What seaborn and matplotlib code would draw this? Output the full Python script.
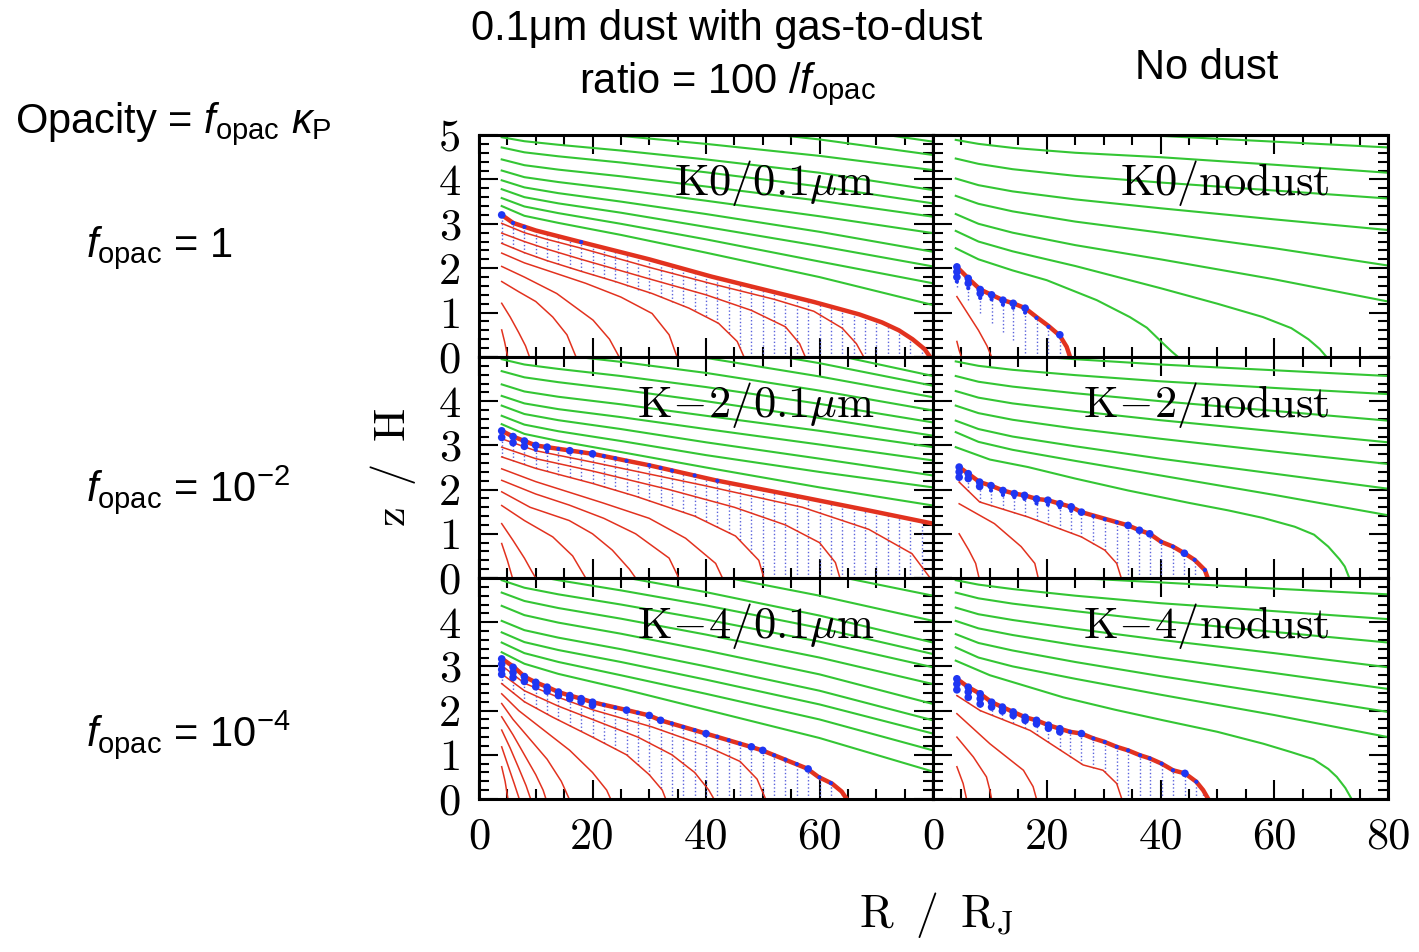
import matplotlib
matplotlib.use("Agg")
import matplotlib.pyplot as plt
from matplotlib.ticker import MultipleLocator
import pandas as pd
import seaborn as sns

plt.rcParams.update({
    "font.family": ["Liberation Sans", "DejaVu Sans"],
    "mathtext.fontset": "custom",
    "mathtext.rm": "Liberation Sans",
    "mathtext.it": "Liberation Sans:italic",
    "mathtext.bf": "Liberation Sans:bold",
    "axes.linewidth": 2.0,
    "axes.edgecolor": "black",
})

GREEN = "#34c634"
RED = "#e2321f"
BLUE = "#1f36f2"
DOTC = "#5a62dc"

X_TICKS = [0, 20, 40, 60, 80]
Y_TICKS = [0, 1, 2, 3, 4, 5]

# radii (R / R_J) at which the outer field lines are sampled
GRID_R = [4, 8, 14, 25, 40, 60, 80]

# ---------------- K0 / 0.1 um ----------------
A_GREEN = [
    [3.40, 3.18, 3.02, 2.75, 2.35, 1.80, 1.17],
    [3.58, 3.39, 3.24, 3.00, 2.65, 2.15, 1.66],
    [3.78, 3.60, 3.46, 3.25, 2.93, 2.50, 2.04],
    [3.98, 3.82, 3.69, 3.50, 3.22, 2.82, 2.37],
    [4.20, 4.05, 3.94, 3.77, 3.52, 3.17, 2.79],
    [4.45, 4.32, 4.22, 4.07, 3.84, 3.52, 3.16],
    [4.72, 4.61, 4.52, 4.38, 4.16, 3.84, 3.46],
    [4.95, 4.86, 4.78, 4.65, 4.45, 4.15, 3.76],
    [5.25, 5.17, 5.10, 4.98, 4.80, 4.53, 4.21],
    [5.60, 5.53, 5.47, 5.36, 5.18, 4.90, 4.55],
    [5.90, 5.84, 5.78, 5.68, 5.52, 5.22, 4.85],
]
A_GREEN_MID = []
A_THIN = [
    ([4, 8, 12, 18, 30, 41, 52, 59, 64, 66.5, 67.8], [3.01, 2.80, 2.65, 2.45, 2.02, 1.65, 1.30, 1.03, 0.65, 0.30, 0]),
    ([4, 8, 12, 18, 30, 40, 48, 54, 56.5, 57.5], [2.79, 2.60, 2.43, 2.20, 1.76, 1.40, 1.05, 0.68, 0.30, 0]),
    ([4, 8, 12, 18, 24, 30.5, 37, 42.2, 45.5, 46.7], [2.56, 2.35, 2.17, 1.93, 1.70, 1.43, 1.10, 0.76, 0.35, 0]),
    ([4, 8, 12, 18.8, 25, 30.5, 33.5, 34.9], [2.34, 2.12, 1.95, 1.66, 1.35, 0.98, 0.50, 0]),
    ([4, 8, 13.7, 20.1, 23, 24.7], [2.04, 1.80, 1.43, 0.83, 0.40, 0]),
    ([4, 7, 10, 13, 15.5, 17.1], [1.70, 1.47, 1.25, 0.90, 0.50, 0]),
    ([4, 5.5, 7, 8.2, 8.9], [1.21, 0.90, 0.55, 0.25, 0]),
    ([4, 4.5, 5.06], [0.61, 0.35, 0]),
]
A_THICK_R = [4, 6, 10, 17, 30, 41, 59, 67, 71, 74, 76.4, 78.5, 79.5]
A_THICK_Z = [3.20, 3.02, 2.85, 2.62, 2.20, 1.81, 1.24, 0.96, 0.78, 0.60, 0.40, 0.18, 0.0]
A_DOT_R = [4, 6, 8, 10, 12, 14, 16, 18, 20, 22, 24, 26, 28, 30, 32, 34, 36, 38, 40,
           42, 44, 46, 48, 50, 52, 54, 56, 58, 60, 62, 64, 66, 68, 70, 72, 74, 76, 78]
A_DOT_TOP = [3.20, 3.02, 2.93, 2.85, 2.78, 2.72, 2.65, 2.59, 2.52, 2.46, 2.40, 2.33, 2.27,
             2.20, 2.13, 2.06, 1.99, 1.92, 1.85, 1.78, 1.71, 1.65, 1.59, 1.52, 1.46, 1.40,
             1.33, 1.27, 1.20, 1.12, 1.04, 0.96, 0.88, 0.80, 0.70, 0.57, 0.43, 0.23]
A_DOT_BOT = [2.56, 2.45, 2.35, 2.26, 2.17, 2.09, 2.01, 1.93, 1.85, 1.78, 1.70, 1.61, 1.52,
             1.45, 1.36, 1.25, 1.15, 1.05, 0.92, 0.77, 0.54, 0.20] + [0.0] * 16
A_BIG_R, A_BIG_Z = [4.0], [3.20]
A_SMALL_R, A_SMALL_Z = [6, 8, 18], [3.02, 2.93, 2.59]

# ---------------- K0 / no dust ----------------
B_GREEN = [
    [3.22, 3.00, 2.80, 2.52, 2.20, 1.75, 1.25],
    [3.63, 3.45, 3.28, 3.05, 2.80, 2.45, 2.06],
    [4.02, 3.87, 3.73, 3.55, 3.35, 3.10, 2.86],
    [4.47, 4.35, 4.23, 4.08, 3.93, 3.75, 3.57],
    [4.89, 4.80, 4.71, 4.60, 4.50, 4.33, 4.15],
    [5.30, 5.22, 5.15, 5.07, 4.98, 4.85, 4.72],
]
B_GREEN_MID = [
    ([4, 8, 14, 20, 28.8, 34.6, 37.6, 40.5, 42, 43.1], [2.45, 2.20, 1.95, 1.73, 1.28, 0.90, 0.66, 0.30, 0.12, 0]),
    ([4, 8, 14, 25, 40, 50, 58, 63, 66, 68, 69.2], [2.84, 2.60, 2.38, 2.05, 1.55, 1.20, 0.90, 0.65, 0.40, 0.18, 0]),
]
B_THIN = [
    ([4.2, 6, 8, 9.5, 10.3], [1.36, 1.00, 0.60, 0.25, 0]),
    ([4.2, 4.6, 5.0], [0.35, 0.15, 0]),
]
B_THICK_R = [4.2, 6.2, 8.3, 10.3, 12.3, 14.1, 16.2, 18.2, 20.3, 22.3, 23.5, 24.1]
B_THICK_Z = [2.03, 1.77, 1.52, 1.40, 1.28, 1.21, 1.10, 0.90, 0.70, 0.48, 0.23, 0.0]
B_DOT_R = [4.2, 6.2, 8.3, 10.3, 12.3, 14.1, 16.2, 18.2, 20.3, 22.3]
B_DOT_TOP = [2.03, 1.77, 1.52, 1.40, 1.28, 1.21, 1.10, 0.90, 0.70, 0.48]
B_DOT_BOT = [1.58, 1.28, 0.98, 0.76, 0.57, 0.38, 0.08, 0.0, 0.0, 0.0]
B_BIG_R = [4.2, 4.2, 4.2, 6.2, 6.2, 8.3, 8.3, 10.3, 12.3, 14.1, 16.2, 22.3]
B_BIG_Z = [2.03, 1.92, 1.80, 1.77, 1.66, 1.52, 1.43, 1.40, 1.28, 1.21, 1.10, 0.50]
B_SMALL_R = [4.2, 6.2, 8.3, 10.3, 12.3, 14.1, 16.2, 18.2, 20.3]
B_SMALL_Z = [1.70, 1.55, 1.33, 1.30, 1.18, 1.11, 1.00, 0.88, 0.68]

# ---------------- K-2 / 0.1 um ----------------
C_GREEN = [
    [3.48, 3.26, 3.10, 2.85, 2.50, 2.05, 1.64],
    [3.67, 3.47, 3.32, 3.10, 2.78, 2.40, 2.05],
    [3.90, 3.71, 3.57, 3.37, 3.07, 2.70, 2.32],
    [4.12, 3.95, 3.82, 3.64, 3.37, 3.02, 2.66],
    [4.38, 4.22, 4.10, 3.93, 3.67, 3.33, 2.96],
    [4.68, 4.54, 4.43, 4.26, 4.00, 3.62, 3.22],
    [4.95, 4.83, 4.73, 4.57, 4.32, 3.94, 3.52],
    [5.25, 5.14, 5.05, 4.89, 4.64, 4.24, 3.79],
    [5.55, 5.45, 5.37, 5.22, 4.98, 4.56, 4.09],
    [5.85, 5.76, 5.68, 5.54, 5.30, 4.86, 4.35],
    [6.20, 6.10, 6.02, 5.88, 5.62, 5.12, 4.57],
]
C_GREEN_MID = []
C_THIN = [
    ([4, 10, 20, 39.4, 57, 68.7, 76.3, 79.5], [3.15, 2.88, 2.62, 2.10, 1.60, 1.10, 0.55, 0]),
    ([4, 10, 20, 33.5, 45, 54, 60, 62.8, 63.6], [2.96, 2.70, 2.42, 2.00, 1.60, 1.20, 0.80, 0.35, 0]),
    ([4, 10, 20, 27.6, 38, 45.2, 49.3, 50.2], [2.74, 2.48, 2.14, 1.85, 1.40, 0.95, 0.40, 0]),
    ([4, 10, 21.8, 30, 36.4, 41.7, 42.9], [2.47, 2.18, 1.70, 1.35, 0.90, 0.33, 0]),
    ([4, 10, 15.9, 22, 27.6, 33.5, 35.2], [2.21, 1.90, 1.65, 1.35, 1.00, 0.45, 0]),
    ([4, 9, 15.9, 20, 23.5, 26.5, 27.6], [1.95, 1.60, 1.30, 1.00, 0.63, 0.20, 0]),
    ([4, 8, 13, 16.5, 18.8], [1.64, 1.30, 0.93, 0.50, 0]),
    ([4, 6, 8, 9.3, 10.0], [1.23, 0.85, 0.45, 0.15, 0]),
    ([4, 5, 5.9], [0.78, 0.40, 0]),
]
C_THICK_R = [4, 6, 8, 10, 12, 20, 30, 41.7, 56.9, 68.6, 80]
C_THICK_Z = [3.33, 3.20, 3.10, 3.00, 2.96, 2.81, 2.55, 2.21, 1.83, 1.53, 1.23]
C_DOT_R = A_DOT_R
C_DOT_TOP = [3.33, 3.20, 3.10, 3.00, 2.96, 2.92, 2.88, 2.85, 2.81, 2.76, 2.71, 2.65, 2.60,
             2.55, 2.49, 2.43, 2.38, 2.32, 2.26, 2.20, 2.15, 2.10, 2.05, 2.00, 1.95, 1.90,
             1.85, 1.80, 1.75, 1.70, 1.65, 1.60, 1.55, 1.49, 1.44, 1.39, 1.33, 1.28]
C_DOT_BOT = [2.74, 2.65, 2.57, 2.48, 2.41, 2.34, 2.28, 2.21, 2.14, 2.06, 1.99, 1.91, 1.83,
             1.75, 1.66, 1.57, 1.49, 1.40, 1.28, 1.15, 1.02, 0.85, 0.57, 0.10] + [0.0] * 14
C_BIG_R = [4, 4, 6, 6, 8, 8, 10, 12, 16, 20]
C_BIG_Z = [3.33, 3.18, 3.20, 3.06, 3.10, 2.98, 3.00, 2.96, 2.88, 2.81]
C_SMALL_R = [10, 12, 14, 18, 22, 24, 26, 30, 32, 34, 38, 42]
C_SMALL_Z = [2.90, 2.86, 2.92, 2.85, 2.76, 2.71, 2.65, 2.55, 2.49, 2.43, 2.32, 2.20]

# ---------------- K-2 / no dust ----------------
D_GREEN = [
    [3.30, 3.08, 2.90, 2.65, 2.32, 1.88, 1.42],
    [3.56, 3.37, 3.20, 2.98, 2.70, 2.36, 2.02],
    [3.90, 3.73, 3.58, 3.38, 3.15, 2.86, 2.58],
    [4.23, 4.08, 3.95, 3.78, 3.57, 3.32, 3.07],
    [4.57, 4.44, 4.33, 4.18, 4.00, 3.78, 3.56],
    [4.90, 4.80, 4.71, 4.59, 4.45, 4.30, 4.16],
    [5.20, 5.12, 5.05, 4.95, 4.83, 4.70, 4.57],
]
D_GREEN_MID = [
    ([4, 10, 16.7, 25, 34.3, 45, 51.9, 58, 63.6, 67, 69.5, 71.5, 72.4, 73.2],
     [2.96, 2.68, 2.51, 2.25, 1.98, 1.70, 1.53, 1.36, 1.16, 0.98, 0.71, 0.42, 0.26, 0]),
]
D_THIN = [
    ([4.6, 8.2, 16.7, 26.1, 30.2, 32.3, 33.1], [2.17, 1.72, 1.38, 0.93, 0.63, 0.33, 0]),
    ([4.6, 10.8, 15.5, 17.9, 18.5], [1.68, 1.23, 0.71, 0.33, 0]),
    ([4.6, 6.3, 7.5, 8.1], [1.00, 0.63, 0.33, 0]),
]
D_THICK_R = [4.6, 6.2, 8.2, 10.2, 12.3, 14.3, 16.1, 18.2, 20.2, 22.3, 24.3, 26.1, 34.3,
             36.3, 38.1, 40.1, 42.2, 44.2, 46.0, 47.8, 48.3]
D_THICK_Z = [2.51, 2.36, 2.17, 2.09, 1.98, 1.91, 1.87, 1.79, 1.76, 1.68, 1.61, 1.49, 1.19,
             1.08, 1.00, 0.82, 0.71, 0.56, 0.41, 0.18, 0.0]
D_DOT_R = [4.6, 6.2, 8.2, 10.2, 12.3, 14.3, 16.1, 18.2, 20.2, 22.3, 24.3, 26.1, 28.2, 30.2,
           32.3, 34.3, 36.3, 38.1, 40.1, 42.2, 44.2, 46.0, 47.8]
D_DOT_TOP = [2.51, 2.36, 2.17, 2.09, 1.98, 1.91, 1.87, 1.79, 1.76, 1.68, 1.61, 1.49, 1.40,
             1.33, 1.26, 1.19, 1.08, 1.00, 0.82, 0.71, 0.56, 0.41, 0.18]
D_DOT_BOT = [2.17, 1.97, 1.72, 1.64, 1.56, 1.48, 1.40, 1.31, 1.21, 1.11, 1.02, 0.93, 0.78,
             0.63, 0.33] + [0.0] * 8
D_BIG_R = [4.6, 4.6, 4.6, 6.2, 6.2, 8.2, 8.2, 10.2, 12.3, 14.3, 16.1, 18.2, 20.2, 22.3,
           24.3, 26.1, 34.3, 36.3, 38.1, 44.2]
D_BIG_Z = [2.51, 2.40, 2.28, 2.36, 2.25, 2.17, 2.07, 2.09, 1.98, 1.91, 1.87, 1.79, 1.76,
           1.68, 1.61, 1.49, 1.19, 1.08, 1.00, 0.56]
D_SMALL_R = [10.2, 12.3, 14.3, 16.1, 18.2, 20.2, 22.3, 24.3, 28.2, 30.2, 32.3, 40.1, 42.2,
             46.0, 47.8]
D_SMALL_Z = [1.98, 1.88, 1.83, 1.79, 1.69, 1.66, 1.60, 1.52, 1.40, 1.33, 1.26, 0.82, 0.71,
             0.41, 0.18]

# ---------------- K-4 / 0.1 um ----------------
E_GREEN = [
    [3.32, 3.06, 2.83, 2.50, 2.02, 1.38, 0.62],
    [3.54, 3.30, 3.10, 2.80, 2.38, 1.80, 1.10],
    [3.77, 3.55, 3.37, 3.10, 2.70, 2.14, 1.48],
    [4.03, 3.82, 3.65, 3.39, 3.00, 2.45, 1.78],
    [4.37, 4.16, 3.99, 3.74, 3.36, 2.82, 2.15],
    [4.67, 4.48, 4.32, 4.08, 3.72, 3.20, 2.60],
    [4.95, 4.78, 4.63, 4.40, 4.06, 3.56, 2.98],
    [5.25, 5.09, 4.95, 4.72, 4.38, 3.87, 3.28],
    [5.55, 5.40, 5.26, 5.03, 4.68, 4.15, 3.54],
    [5.90, 5.76, 5.63, 5.42, 5.10, 4.60, 4.03],
    [6.30, 6.17, 6.05, 5.86, 5.57, 5.12, 4.60],
]
E_GREEN_MID = []
E_THIN = [
    ([4, 8, 14, 20, 30.5, 40, 46, 49, 50.5], [3.02, 2.62, 2.30, 2.02, 1.63, 1.20, 0.85, 0.45, 0]),
    ([4, 8, 14, 20, 28, 34, 38, 40.5, 41.4], [2.83, 2.45, 2.10, 1.80, 1.40, 1.00, 0.60, 0.20, 0]),
    ([4, 8, 13, 20, 26, 30, 32.3, 32.9], [2.61, 2.20, 1.85, 1.40, 1.00, 0.55, 0.20, 0]),
    ([4, 7, 11, 16, 20, 22.5, 23.2], [2.38, 2.00, 1.60, 1.10, 0.60, 0.20, 0]),
    ([4, 6, 9, 12, 14.5, 15.9], [2.16, 1.80, 1.35, 0.90, 0.40, 0]),
    ([4, 6, 8, 10, 11.3, 11.8], [1.86, 1.45, 1.00, 0.55, 0.20, 0]),
    ([4, 5.5, 7, 8.3, 9.1], [1.56, 1.15, 0.70, 0.30, 0]),
    ([4, 5, 6.2, 7.1], [1.18, 0.80, 0.35, 0]),
    ([4, 4.6, 5.1], [0.73, 0.40, 0]),
]
E_THICK_R = [4.1, 6.2, 8.1, 10, 12.1, 14, 16, 18, 20, 26.1, 30, 32, 40, 47.9, 49.9, 57.8,
             59.8, 62.2, 63.9, 64.8]
E_THICK_Z = [3.17, 2.98, 2.76, 2.64, 2.53, 2.42, 2.34, 2.27, 2.19, 2.01, 1.89, 1.78, 1.48,
             1.18, 1.10, 0.69, 0.50, 0.35, 0.17, 0.0]
E_DOT_R = [4, 6, 8, 10, 12, 14, 16, 18, 20, 22, 24, 26, 28, 30, 32, 34, 36, 38, 40, 42,
           44, 46, 48, 50, 52, 54, 56, 58, 60, 62, 64]
E_DOT_TOP = [3.17, 2.98, 2.77, 2.64, 2.53, 2.42, 2.34, 2.27, 2.19, 2.13, 2.07, 2.01, 1.95,
             1.89, 1.78, 1.71, 1.63, 1.56, 1.48, 1.41, 1.33, 1.25, 1.18, 1.10, 0.99, 0.89,
             0.79, 0.68, 0.49, 0.36, 0.15]
E_DOT_BOT = [2.61, 2.40, 2.20, 2.06, 1.92, 1.79, 1.66, 1.53, 1.40, 1.27, 1.13, 1.00, 0.78,
             0.55, 0.25] + [0.0] * 16
E_BIG_R = [4, 4, 4, 4, 6, 6, 6, 8, 8, 10, 10, 12, 12, 14, 14, 16, 16, 18, 18, 20, 20,
           26, 30, 32, 40, 48, 50, 58]
E_BIG_Z = [3.17, 3.05, 2.93, 2.82, 2.98, 2.86, 2.75, 2.77, 2.66, 2.64, 2.54, 2.53, 2.44,
           2.42, 2.34, 2.34, 2.27, 2.27, 2.20, 2.19, 2.12, 2.01, 1.89, 1.78, 1.48, 1.18,
           1.10, 0.68]
E_SMALL_R = [22, 24, 28, 34, 36, 38, 42, 44, 46, 52, 54, 56, 60, 62]
E_SMALL_Z = [2.13, 2.07, 1.95, 1.71, 1.63, 1.56, 1.41, 1.33, 1.25, 0.99, 0.89, 0.79, 0.49, 0.36]

# ---------------- K-4 / no dust ----------------
F_GREEN = [
    [3.43, 3.20, 3.00, 2.72, 2.36, 1.90, 1.40],
    [3.73, 3.53, 3.36, 3.10, 2.78, 2.38, 1.97],
    [4.03, 3.86, 3.71, 3.48, 3.20, 2.85, 2.49],
    [4.33, 4.18, 4.05, 3.85, 3.60, 3.30, 2.98],
    [4.67, 4.54, 4.42, 4.25, 4.03, 3.78, 3.54],
    [4.95, 4.85, 4.75, 4.60, 4.43, 4.25, 4.07],
    [5.25, 5.17, 5.10, 5.00, 4.90, 4.76, 4.63],
]
F_GREEN_MID = [
    ([4, 10, 22.9, 32, 40.5, 50, 58.1, 63, 66.9, 69.5, 71, 72.5, 73.6],
     [3.13, 2.80, 2.30, 2.02, 1.78, 1.52, 1.25, 1.06, 0.90, 0.68, 0.50, 0.25, 0]),
]
F_THIN = [
    ([4.2, 8.3, 17.1, 26.4, 29.9, 32.3, 33.2], [2.34, 2.00, 1.55, 0.77, 0.65, 0.35, 0]),
    ([4.2, 10, 15.9, 17.6, 18.2], [1.93, 1.25, 0.65, 0.28, 0]),
    ([4.2, 7.1, 9.4, 10, 10.3], [1.40, 0.95, 0.50, 0.20, 0]),
    ([4.2, 5.3, 5.9], [0.73, 0.35, 0]),
]
F_THICK_R = [4.2, 6.2, 8.3, 10.3, 12.2, 14.1, 16.2, 18.2, 20.3, 22.3, 24.1, 26.1, 28.2,
             30.2, 32.3, 34.3, 36.4, 38.1, 40.2, 42.2, 44.3, 46.3, 47.5, 48.4]
F_THICK_Z = [2.72, 2.53, 2.38, 2.19, 2.08, 1.97, 1.85, 1.78, 1.67, 1.59, 1.52, 1.48, 1.37,
             1.29, 1.18, 1.10, 0.99, 0.92, 0.80, 0.65, 0.58, 0.39, 0.20, 0.0]
F_DOT_R = F_THICK_R[:-1]
F_DOT_TOP = F_THICK_Z[:-1]
F_DOT_BOT = [2.34, 2.17, 2.00, 1.90, 1.80, 1.71, 1.60, 1.45, 1.28, 1.11, 0.96, 0.79, 0.71,
             0.62, 0.35] + [0.0] * 8
F_BIG_R = [4.2, 4.2, 4.2, 6.2, 6.2, 6.2, 8.3, 8.3, 8.3, 10.3, 10.3, 12.2, 12.2, 14.1, 14.1,
           16.2, 16.2, 18.2, 18.2, 20.3, 20.3, 22.3, 22.3, 26.1, 44.3]
F_BIG_Z = [2.72, 2.60, 2.47, 2.53, 2.42, 2.30, 2.38, 2.27, 2.15, 2.19, 2.08, 2.08, 1.99,
           1.97, 1.89, 1.85, 1.78, 1.78, 1.70, 1.67, 1.60, 1.59, 1.52, 1.48, 0.58]
F_SMALL_R = [24.1, 28.2, 30.2, 32.3, 34.3, 36.4, 38.1, 40.2, 42.2, 46.3]
F_SMALL_Z = [1.52, 1.37, 1.29, 1.18, 1.10, 0.99, 0.92, 0.80, 0.65, 0.39]

PANEL_LABELS = [
    r"$\mathrm{K0/0.1}\mu\mathrm{m}$", r"$\mathrm{K0/nodust}$",
    r"$\mathrm{K}\!-\!\mathrm{2/0.1}\mu\mathrm{m}$", r"$\mathrm{K}\!-\!\mathrm{2/nodust}$",
    r"$\mathrm{K}\!-\!\mathrm{4/0.1}\mu\mathrm{m}$", r"$\mathrm{K}\!-\!\mathrm{4/nodust}$",
]


def curves_frame(curves):
    rows = []
    for cid, (rs, zs) in enumerate(curves):
        for r, z in zip(rs, zs):
            rows.append({"curve": cid, "R": r, "z": z})
    return pd.DataFrame(rows)


def draw_panel(ax, green, green_mid, thin, thick_r, thick_z, dot_r, dot_top, dot_bot,
               big_r, big_z, small_r, small_z, label):
    field = [(GRID_R, zs) for zs in green] + list(green_mid)
    sns.lineplot(data=curves_frame(field), x="R", y="z", units="curve", estimator=None,
                 sort=False, color=GREEN, lw=1.5, ax=ax, legend=False, zorder=2)
    ax.vlines(dot_r, dot_bot, dot_top, colors=DOTC, linestyles=(0, (1, 1.6)), lw=1.0,
              zorder=2.5)
    sns.lineplot(data=curves_frame(thin), x="R", y="z", units="curve", estimator=None,
                 sort=False, color=RED, lw=1.1, ax=ax, legend=False, zorder=3)
    sns.lineplot(x=thick_r, y=thick_z, estimator=None, sort=False, color=RED, lw=3.2,
                 ax=ax, zorder=4)
    sns.scatterplot(x=small_r, y=small_z, s=9, color=BLUE, edgecolor="none", ax=ax,
                    zorder=5)
    sns.scatterplot(x=big_r, y=big_z, s=30, color=BLUE, edgecolor="none", ax=ax, zorder=6)
    ax.text(0.872, 0.785, label, transform=ax.transAxes, ha="right", va="center",
            fontsize=32, math_fontfamily="cm", zorder=7)


fig = plt.figure(figsize=(14.19, 9.52), dpi=100)
fig.patch.set_facecolor("white")

col_x = [479 / 1419, 933 / 1419]
col_w = [454 / 1419, 455 / 1419]
row_y = [(952 - 357) / 952, (952 - 578) / 952, (952 - 799) / 952]
row_h = [222 / 952, 221 / 952, 221 / 952]

panels = [
    (A_GREEN, A_GREEN_MID, A_THIN, A_THICK_R, A_THICK_Z, A_DOT_R, A_DOT_TOP, A_DOT_BOT,
     A_BIG_R, A_BIG_Z, A_SMALL_R, A_SMALL_Z),
    (B_GREEN, B_GREEN_MID, B_THIN, B_THICK_R, B_THICK_Z, B_DOT_R, B_DOT_TOP, B_DOT_BOT,
     B_BIG_R, B_BIG_Z, B_SMALL_R, B_SMALL_Z),
    (C_GREEN, C_GREEN_MID, C_THIN, C_THICK_R, C_THICK_Z, C_DOT_R, C_DOT_TOP, C_DOT_BOT,
     C_BIG_R, C_BIG_Z, C_SMALL_R, C_SMALL_Z),
    (D_GREEN, D_GREEN_MID, D_THIN, D_THICK_R, D_THICK_Z, D_DOT_R, D_DOT_TOP, D_DOT_BOT,
     D_BIG_R, D_BIG_Z, D_SMALL_R, D_SMALL_Z),
    (E_GREEN, E_GREEN_MID, E_THIN, E_THICK_R, E_THICK_Z, E_DOT_R, E_DOT_TOP, E_DOT_BOT,
     E_BIG_R, E_BIG_Z, E_SMALL_R, E_SMALL_Z),
    (F_GREEN, F_GREEN_MID, F_THIN, F_THICK_R, F_THICK_Z, F_DOT_R, F_DOT_TOP, F_DOT_BOT,
     F_BIG_R, F_BIG_Z, F_SMALL_R, F_SMALL_Z),
]

for idx, data in enumerate(panels):
    row, col = divmod(idx, 2)
    ax = fig.add_axes([col_x[col], row_y[row], col_w[col], row_h[row]])
    ax.set_facecolor("white")
    draw_panel(ax, *data, PANEL_LABELS[idx])
    ax.set_xlim(0, 80)
    ax.set_ylim(0, 5)
    ax.set_xlabel("")
    ax.set_ylabel("")

    # tick labels: y on the left column, x on the bottom row
    if row == 2:
        xl = [str(v) for v in X_TICKS]
        if col == 0:
            xl[-1] = ""
    else:
        xl = [""] * len(X_TICKS)
    ax.set_xticks(X_TICKS, xl, fontfamily="cmr10", fontsize=32)
    if col == 0:
        yl = [str(v) for v in Y_TICKS]
        if row > 0:
            yl[-1] = ""
    else:
        yl = [""] * len(Y_TICKS)
    ax.set_yticks(Y_TICKS, yl, fontfamily="cmr10", fontsize=32)

    ax.xaxis.set_minor_locator(MultipleLocator(5))
    ax.yaxis.set_minor_locator(MultipleLocator(0.2))
    ax.tick_params(which="both", direction="in", top=True, right=True, bottom=True,
                   left=True, width=1.5, color="black")
    ax.tick_params(which="major", length=14)
    ax.tick_params(which="minor", length=7)
    ax.tick_params(axis="x", which="major", pad=13)
    ax.tick_params(axis="y", which="major", pad=13)
    for sp in ax.spines.values():
        sp.set_linewidth(2.2)
        sp.set_zorder(8)

# axis titles
fig.text(393 / 1419, 1 - 467 / 952, r"$\mathrm{z\;\;/\;\;H}$", rotation=90,
         ha="center", va="center", fontsize=32, math_fontfamily="cm")
fig.text(936 / 1419, 1 - 915 / 952, r"$\mathrm{R\;\;/\;\;R_J}$",
         ha="center", va="center", fontsize=33, math_fontfamily="cm")

# column headings
fig.text(727 / 1419, 1 - 40 / 952, "0.1\u03bcm dust with gas-to-dust",
         ha="center", va="baseline", fontsize=30)
fig.text(727 / 1419, 1 - 93 / 952, r"ratio = 100 /$f_{\mathrm{opac}}$",
         ha="center", va="baseline", fontsize=30)
fig.text(1207 / 1419, 1 - 79 / 952, "No dust", ha="center", va="baseline", fontsize=30)

# row annotations
fig.text(15 / 1419, 1 - 133 / 952, r"Opacity = $f_{\mathrm{opac}}$ $\kappa_{\mathrm{P}}$",
         ha="left", va="baseline", fontsize=30)
fig.text(86 / 1419, 1 - 257 / 952, r"$f_{\mathrm{opac}}$ = 1",
         ha="left", va="baseline", fontsize=30)
fig.text(86 / 1419, 1 - 501 / 952, r"$f_{\mathrm{opac}}$ = 10$^{-2}$",
         ha="left", va="baseline", fontsize=30)
fig.text(86 / 1419, 1 - 746 / 952, r"$f_{\mathrm{opac}}$ = 10$^{-4}$",
         ha="left", va="baseline", fontsize=30)

fig.savefig("out.png", dpi=100, facecolor="white")
